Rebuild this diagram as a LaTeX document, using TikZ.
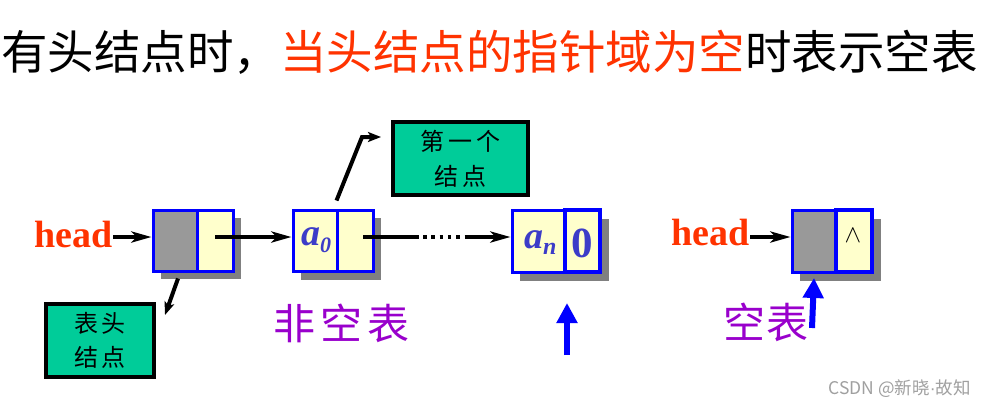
\documentclass[tikz,border=0pt]{standalone}
\usepackage{fontspec}
\setmainfont{Liberation Serif}
\newfontfamily\cjk{Noto Sans CJK SC}
\newfontfamily\lsans{Liberation Sans}
\usetikzlibrary{arrows.meta,calc}
\definecolor{tred}{HTML}{FF3300}
\definecolor{cellgray}{HTML}{999999}
\definecolor{shadowgray}{HTML}{808080}
\definecolor{cellyellow}{HTML}{FFFFCC}
\definecolor{cellblue}{HTML}{0000FF}
\definecolor{gboxfill}{HTML}{00CC99}
\definecolor{lblpurple}{HTML}{9900CC}
\definecolor{valblue}{HTML}{3C3CC8}
\definecolor{wmgray}{HTML}{A0A0A0}
\begin{document}
\begin{tikzpicture}[x=1pt,y=-1pt,
  cell/.style={draw=cellblue, line width=3pt, inner sep=0pt, minimum height=61pt},
  graycell/.style={cell, fill=cellgray},
  yelcell/.style={cell, fill=cellyellow},
  shadowbox/.style={fill=shadowgray},
  ptr/.style={line width=4pt, -{Stealth[length=20pt,width=11pt,inset=5pt]}},
  ptrsmall/.style={line width=4pt, line join=miter, -{Stealth[length=13pt,width=10pt,inset=3pt]}},
  barrow/.style={draw=cellblue, line width=6pt, -{Triangle[length=20pt,width=20pt]}},
  headtxt/.style={inner sep=0pt, text=tred, font=\bfseries\fontsize{38}{38}\selectfont},
  valtxt/.style={inner sep=0pt, text=valblue, font=\bfseries\itshape\fontsize{38}{38}\selectfont},
  gbox/.style={draw=black, line width=4pt, fill=gboxfill, inner sep=0pt, align=center, minimum height=73pt},
  lbl/.style={inner sep=0pt, text=lblpurple, font=\cjk\fontsize{42}{42}\selectfont}
]
\useasboundingbox (0,0) rectangle (987,407);
\fill[white] (0,0) rectangle (987,407);

% title
\node[anchor=west, inner sep=0pt, font=\cjk\fontsize{46.5}{50}\selectfont] (title) at (1,52)
  {有头结点时，\textcolor{tred}{当头结点的指针域为空}时表示空表};

\coordinate (ylev) at (0,237);

% shadows
\fill[shadowbox] (161,218) rectangle (241,279);
\fill[shadowbox] (301,218) rectangle (381,280);
\fill[shadowbox] (520,219) rectangle (609,281);
\fill[shadowbox] (800,219) rectangle (881,281);

% head node (non-empty list)
\node[graycell, minimum width=44pt] (hl) at (175,240.5) {};
\node[yelcell, minimum width=36pt] (hr) at (215,240.5) {};
% a0 node
\node[yelcell, minimum width=44pt] (a0l) at (315,240.5) {};
\node[yelcell, minimum width=36pt] (a0r) at (355,240.5) {};
% an node
\node[yelcell, minimum width=53pt, minimum height=62pt] (anl) at (538.5,241) {};
\node[yelcell, line width=4pt, minimum width=35pt, minimum height=62pt] (anr) at (582.5,241) {};
% empty list head node
\node[graycell, minimum width=44pt, minimum height=62pt] (el) at (814,241) {};
\node[yelcell, line width=4pt, minimum width=36pt, minimum height=62pt] (er) at (854,241) {};

% cell texts
\node[valtxt, anchor=base west] (a0v) at (301,245) {a\raisebox{-7pt}{\fontsize{22}{22}\selectfont 0}};
\node[valtxt, anchor=base west] (anv) at (524,248) {a\raisebox{-6pt}{\fontsize{24}{24}\selectfont n}};
\node[inner sep=0pt, text=valblue, font=\bfseries\fontsize{43}{43}\selectfont, anchor=base] (zero) at (582,257) {0};
\node[inner sep=0pt, font=\fontsize{34}{34}\selectfont] (nul) at ($(er.center)+(-1,-5)$) {$\wedge$};

% head labels
\node[headtxt, anchor=base east] (h1) at (113,247) {head};
\node[headtxt, anchor=base east] (h2) at (750,245) {head};

% connectors
\draw[ptr] (h1.east |- ylev) -- (hl.west |- ylev);
\draw[ptr] (hr.center |- ylev) -- (a0l.west |- ylev);
\coordinate (dotA) at (419,237);
\coordinate (dotB) at (423,237);
\coordinate (dotC) at (468,237);
\draw[line width=4pt] ($(a0r.center |- ylev)+(8,0)$) -- (dotA);
\draw[line width=3.5pt, dash pattern=on 3.5pt off 4.8pt] (dotB) -- (dotC);
\draw[ptr] (dotC) -- (anl.west |- ylev);
\draw[ptr] (h2.east |- ylev) -- (el.west |- ylev);

% green label boxes
\node[gbox, minimum width=135pt, font=\cjk\fontsize{24}{35}\selectfont] (g1) at (460.5,158.5)
  {第\hspace{4pt}一\hspace{4pt}个\\结\hspace{4pt}点};
\node[gbox, minimum width=108pt, font=\cjk\fontsize{24}{34}\selectfont] (g2) at (100,340.5)
  {表\hspace{3pt}头\\结\hspace{3pt}点};

\coordinate (bend1) at (362,137);
\draw[ptrsmall, shorten >=10pt] ($(a0l.north east)+(-2,-8)$) -- (bend1) -- (g1.west |- bend1);
\draw[ptrsmall] ($(hl.south)+(3,6)$) -- ($(g2.north east)+(9,13)$);

% purple labels
\node[lbl] (l1) at (341,323) {非\hspace{5pt}空\hspace{5pt}表};
\node[lbl] (l2) at (766,322) {空\hspace{2pt}表};

% blue arrows
\coordinate (up1s) at (567,355);
\coordinate (up1e) at (567,303);
\coordinate (up2s) at (812,328);
\coordinate (up2e) at (814,278);
\draw[barrow] (up1s) -- (up1e);
\draw[barrow] (up2s) -- (up2e);

% watermark
\node[anchor=east, inner sep=0pt, text=wmgray, font=\cjk\fontsize{17.5}{17.5}\selectfont] (wm) at (971,389) {CSDN @新晓{\lsans·}故知};
\end{tikzpicture}
\end{document}
